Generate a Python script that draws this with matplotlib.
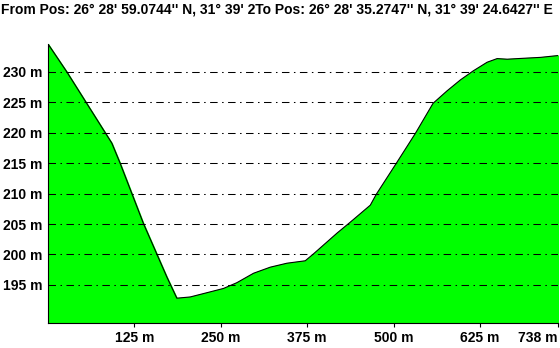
import numpy as np
import matplotlib
matplotlib.use("Agg")
import matplotlib.pyplot as plt

# profile (distance m, elevation m)
dist = [0, 27, 92.3, 104.3, 138, 171.9, 186.4, 205.7, 229.9, 253.9, 273.3,
        297.4, 321.6, 345.7, 372.2, 384.3, 418.2, 437.4, 466.4, 475.1, 504.1,
        531.6, 557.2, 577.5, 596.8, 615.6, 635.4, 649.9, 664.4, 688.0, 712.6, 738]
elev = [234.6, 230.05, 218.3, 215.0, 205.1, 196.3, 192.8, 193.0, 193.7, 194.4, 195.35,
        196.9, 197.9, 198.55, 198.95, 200.1, 203.5, 205.3, 208.1, 209.9, 215.0,
        219.9, 224.85, 226.9, 228.7, 230.2, 231.6, 232.2, 232.1, 232.25, 232.4, 232.7]

yticks = [195, 200, 205, 210, 215, 220, 225, 230]
xticks = [125, 250, 375, 500, 625, 738]
title = "From Pos: 26\u00b0 28' 59.0744'' N, 31\u00b0 39' 2To Pos: 26\u00b0 28' 35.2747'' N, 31\u00b0 39' 24.6427'' E"

plt.rcParams['font.family'] = ['Liberation Sans', 'DejaVu Sans']
plt.rcParams['font.weight'] = 'bold'

fig = plt.figure(figsize=(5.6, 3.48), dpi=100)
ax = fig.add_axes([48/560, 1-323/348, 510/560, (323-44)/348])

ax.fill_between(dist, elev, 188.72, color='#00ff00', zorder=1)
ax.plot(dist, elev, color='black', lw=0.8, zorder=3)

for y in yticks:
    ax.axhline(y, color='black', lw=0.75, dashes=(7.2, 4.3, 1.44, 4.3), zorder=2)

ax.set_xlim(0, 738)
ax.set_ylim(188.72, 234.6)
ax.set_xticks(xticks)
ax.set_xticklabels([f"{x} m" for x in xticks], fontsize=10, fontweight='bold')
ax.set_yticks(yticks)
ax.set_yticklabels([f"{y} m" for y in yticks], fontsize=10, fontweight='bold')
ax.tick_params(axis='y', length=0, pad=4)
ax.tick_params(axis='x', length=3, width=0.8, pad=3, direction='out')
# last label is pulled inside the figure like in the original
ax.get_xticklabels()[-1].set_horizontalalignment('right')

for s in ['top', 'right']:
    ax.spines[s].set_visible(False)
for s in ['left', 'bottom']:
    ax.spines[s].set_linewidth(0.8)

fig.text(1/560, 1-9/348, title, fontsize=10, fontweight='bold', va='center', ha='left')

fig.savefig('out.png', dpi=100)
